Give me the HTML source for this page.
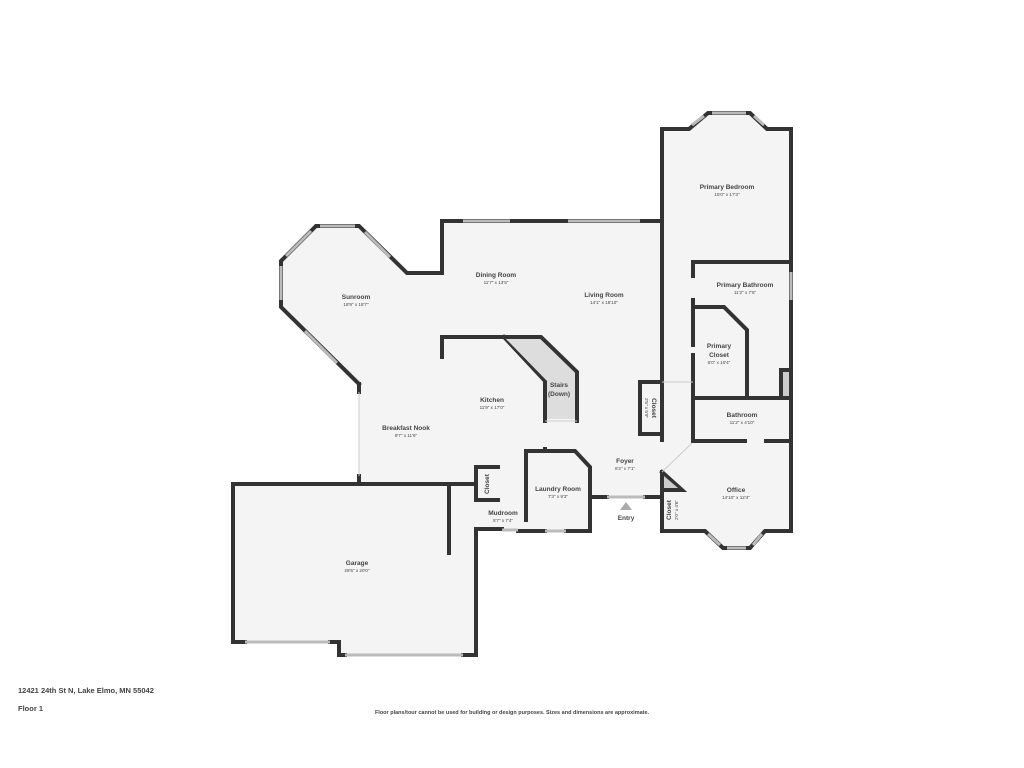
<!DOCTYPE html>
<html><head><meta charset="utf-8"><style>
html,body{margin:0;padding:0;background:#fff;}
svg{display:block}
text{font-family:"Liberation Sans",sans-serif;fill:#444;text-anchor:middle}
.n{font-size:6.5px;font-weight:bold}
.d{font-size:4.6px}
</style></head><body>
<svg width="1024" height="768" viewBox="0 0 1024 768" xmlns="http://www.w3.org/2000/svg">
<rect width="1024" height="768" fill="#fff"/>
<polygon fill="#f4f4f4" points="316,226 359,226 407,273 442,273 442,221 662,221 662,129 689,129 708,113 750,113 767,129 791,129 791,531 765,531 750,548 723,548 705,531 662,531 662,497 592,497 590,531 476,531 476,655 339,655 339,642 233,642 233,484 359,484 359,384 281,307 281,261"/>
<g fill="none" stroke="#333" stroke-width="4" stroke-linejoin="miter" stroke-linecap="square">
<!-- sunroom / dining outer -->
<polyline points="359,384 281,307 281,261 316,226 359,226 407,273 442,273 442,221 662,221"/>
<line x1="359" y1="384" x2="359" y2="392"/>
<line x1="359" y1="476" x2="359" y2="484"/>
<!-- bedroom -->
<polyline points="662,440 662,129 689,129 708,113 750,113 767,129 791,129 791,531 765,531 750,548 723,548 705,531 662,531 662,472"/>
<!-- foyer bottom -->
<line x1="592" y1="497" x2="607" y2="497"/>
<line x1="645" y1="497" x2="662" y2="497"/>
<!-- garage -->
<polyline points="233,484 476,484"/>
<polyline points="476,484 476,467 498,467"/>
<polyline points="498,500 476,500"/>
<polyline points="245,642 233,642 233,484"/>
<polyline points="330,642 339,642 339,655 345,655"/>
<polyline points="463,655 476,655 476,529 502,529"/>
<line x1="449" y1="484" x2="449" y2="553"/>
<line x1="476" y1="484" x2="476" y2="500"/>
<!-- laundry -->
<polyline points="526,520 526,451 575,451 590,467 590,531 566,531"/>
<line x1="545" y1="531" x2="518" y2="531"/>
<line x1="545" y1="449" x2="545" y2="451"/>
<!-- kitchen counter -->
<polyline points="442,357 442,337 541,337 577,372 577,421"/>
<polyline points="504,337 545,381 545,421"/>
<!-- living closet -->
<polyline points="662,382 640,382 640,434 662,434"/>
<!-- primary bath / closet -->
<polyline points="693,276 693,262 791,262"/>
<line x1="693" y1="300" x2="693" y2="325"/>
<polyline points="693,345 693,307 724,307 747,330 747,398"/>
<line x1="693" y1="355" x2="693" y2="440"/>
<line x1="693" y1="398" x2="791" y2="398"/>
<line x1="693" y1="441" x2="745" y2="441"/>
<line x1="766" y1="441" x2="791" y2="441"/>
<line x1="781" y1="370" x2="781" y2="398"/>
<line x1="781" y1="370" x2="791" y2="370"/>
<!-- office closet -->
<polyline points="662,472 682,490 662,490"/>
</g>
<!-- hatches -->
<polygon points="506,339 540,339 575,373 575,419 547,419 547,381" fill="#ddd"/>
<polygon points="664,476 664,488 678,488" fill="#ccc"/>
<rect x="783" y="372" width="6" height="24" fill="#ccc"/>
<!-- windows -->
<g stroke="#bbb" stroke-width="3" fill="none">
<line x1="320" y1="226" x2="355" y2="226"/>
<line x1="286" y1="256" x2="311" y2="231"/>
<line x1="365" y1="232" x2="390" y2="257"/>
<line x1="281" y1="266" x2="281" y2="300"/>
<line x1="305" y1="331" x2="337" y2="363"/>
<line x1="463" y1="221" x2="510" y2="221"/>
<line x1="568" y1="221" x2="640" y2="221"/>
<line x1="692" y1="125" x2="704" y2="116"/>
<line x1="712" y1="113" x2="746" y2="113"/>
<line x1="754" y1="116" x2="764" y2="125"/>
<line x1="791" y1="272" x2="791" y2="300"/>
<line x1="708" y1="534" x2="720" y2="545"/>
<line x1="727" y1="548" x2="746" y2="548"/>
<line x1="753" y1="545" x2="762" y2="534"/>
<line x1="545" y1="531" x2="566" y2="531"/>
<line x1="502" y1="530" x2="518" y2="530"/>
<line x1="607" y1="497" x2="645" y2="497"/>
<line x1="245" y1="642" x2="330" y2="642"/>
<line x1="345" y1="655" x2="463" y2="655"/>
</g>
<g stroke="#ccc" stroke-width="1" fill="none">
<line x1="359" y1="392" x2="359" y2="476"/>
<line x1="662" y1="472" x2="692" y2="443"/>
<line x1="662" y1="382" x2="693" y2="382"/>
<line x1="545" y1="421" x2="577" y2="421"/>
</g>
<polygon points="626,502 620,510 632,510" fill="#aaa"/>
<!-- labels -->
<text class="n" x="356" y="299">Sunroom</text><text class="d" x="356" y="306">18'9" x 18'7"</text>
<text class="n" x="496" y="277">Dining Room</text><text class="d" x="496" y="284">11'7" x 13'5"</text>
<text class="n" x="604" y="297">Living Room</text><text class="d" x="604" y="304">14'1" x 18'10"</text>
<text class="n" x="727" y="189">Primary Bedroom</text><text class="d" x="727" y="196">15'0" x 17'3"</text>
<text class="n" x="745" y="287">Primary Bathroom</text><text class="d" x="745" y="294">11'2" x 7'5"</text>
<text class="n" x="719" y="348">Primary</text><text class="n" x="719" y="357">Closet</text><text class="d" x="719" y="364">6'0" x 10'4"</text>
<text class="n" x="559" y="387">Stairs</text><text class="n" x="559" y="396">(Down)</text>
<text class="n" x="492" y="402">Kitchen</text><text class="d" x="492" y="409">11'9" x 17'0"</text>
<text class="n" x="406" y="430">Breakfast Nook</text><text class="d" x="406" y="437">9'7" x 11'6"</text>
<text class="n" x="742" y="417">Bathroom</text><text class="d" x="742" y="424">11'2" x 4'10"</text>
<text class="n" x="625" y="463">Foyer</text><text class="d" x="625" y="470">8'2" x 7'1"</text>
<text class="n" x="558" y="491">Laundry Room</text><text class="d" x="558" y="498">7'3" x 9'3"</text>
<text class="n" x="736" y="492">Office</text><text class="d" x="736" y="499">14'10" x 12'4"</text>
<text class="n" x="503" y="515">Mudroom</text><text class="d" x="503" y="522">5'7" x 7'4"</text>
<text class="n" x="626" y="520">Entry</text>
<text class="n" x="357" y="565">Garage</text><text class="d" x="357" y="572">28'5" x 20'0"</text>
<text class="n" transform="translate(487,484) rotate(-90)" dy="2">Closet</text>
<text class="n" transform="translate(654,408) rotate(90)" dy="2">Closet</text>
<text class="d" transform="translate(647,408) rotate(90)" dy="2">2'5" x 5'9"</text>
<text class="n" transform="translate(669,510) rotate(-90)" dy="2">Closet</text>
<text class="d" transform="translate(676,510) rotate(-90)" dy="2">2'0" x 4'6"</text>
<text x="18" y="693" style="font-size:7.5px;font-weight:bold;text-anchor:start">12421 24th St N, Lake Elmo, MN 55042</text>
<text x="18" y="711" style="font-size:7.5px;font-weight:bold;text-anchor:start">Floor 1</text>
<text x="512" y="714" style="font-size:5.5px;font-weight:bold">Floor plans/tour cannot be used for building or design purposes. Sizes and dimensions are approximate.</text>
</svg>
</body></html>
